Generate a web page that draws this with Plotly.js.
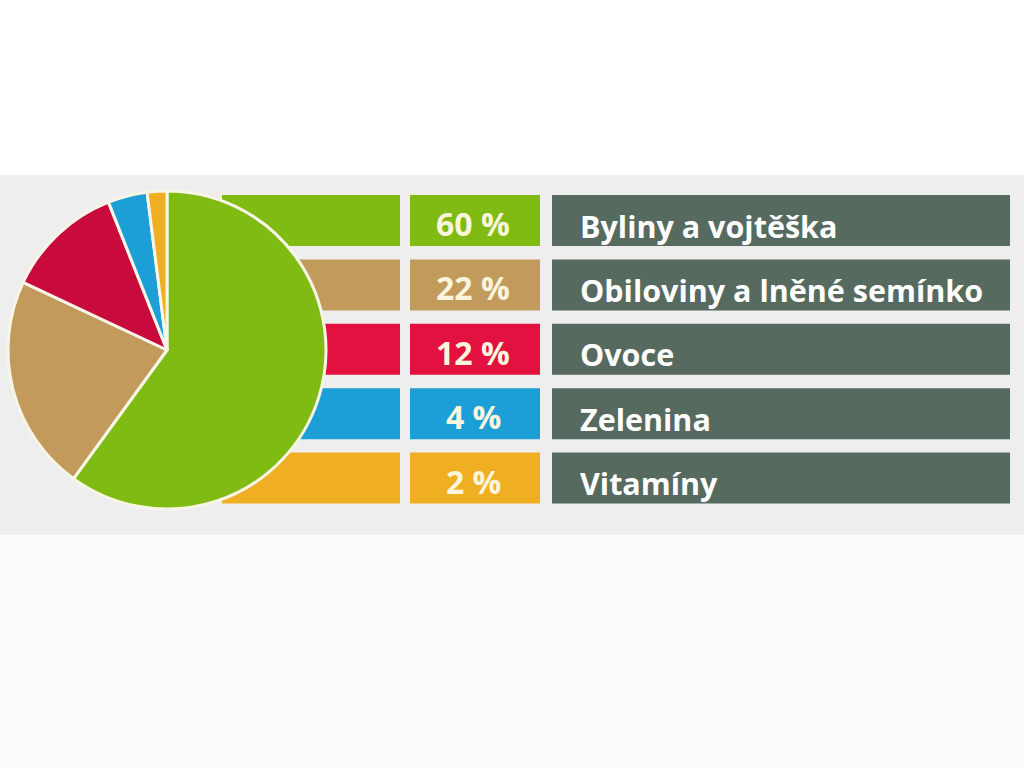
<!DOCTYPE html>
<html><head><meta charset="utf-8">
<script src="https://cdn.plot.ly/plotly-3.0.1.min.js"></script>
<style>html,body{margin:0;padding:0;background:#fff}</style>
</head><body>
<div id="chart" style="width:1024px;height:768px"></div>
<script>
// ---- data ----
const categories = ["Byliny a vojtěška", "Obiloviny a lněné semínko", "Ovoce", "Zelenina", "Vitamíny"];
const values = [60, 22, 12, 4, 2];
const pctLabels = ["60 %", "22 %", "12 %", "4 %", "2 %"];
const sliceColors = ["#7fbb12", "#c29a5c", "#c90a3c", "#1b9fd6", "#f0ae22"];
const stripColors = ["#7fbb12", "#c29a5c", "#e2113f", "#1b9fd6", "#f0ae22"];

// ---- geometry (pixel-mapped axes) ----
const W = 1024, H = 768;
const rowTop = 220.5, pitch = 64.4;
const yLo = (0 - rowTop) / pitch, yHi = (H - rowTop) / pitch;
const rows = categories.map((_, i) => i);
const barW = 51 / pitch;

const stripTrace = {
  type: 'bar', orientation: 'h', y: rows, x: categories.map(() => 400 - 222), base: categories.map(() => 222),
  width: barW, marker: {color: stripColors, line: {width: 0}}, hoverinfo: 'skip', showlegend: false
};
const pctTrace = {
  type: 'bar', orientation: 'h', y: rows, x: categories.map(() => 540 - 410), base: categories.map(() => 410),
  width: barW, marker: {color: stripColors, line: {width: 0}}, hoverinfo: 'skip', showlegend: false
};
const labelTrace = {
  type: 'bar', orientation: 'h', y: rows, x: categories.map(() => 1010 - 552), base: categories.map(() => 552),
  width: barW, marker: {color: '#566a60', line: {width: 0}}, hoverinfo: 'skip', showlegend: false
};

const cx = 167, cy = 350, r = 159;
const pieTrace = {
  type: 'pie', values: values, labels: categories, sort: false, direction: 'clockwise', rotation: 0,
  marker: {colors: sliceColors, line: {color: '#f7f6e6', width: 3}},
  textinfo: 'none', hoverinfo: 'label+percent', showlegend: false,
  domain: {x: [(cx - r) / W, (cx + r) / W], y: [(H - cy - r) / H, (H - cy + r) / H]}
};

const annotations = [];
categories.forEach((c, i) => {
  annotations.push({x: 473, y: i + 3 / pitch, xref: 'x', yref: 'y', text: '<b>' + pctLabels[i] + '</b>', showarrow: false,
    xanchor: 'center', yanchor: 'middle', font: {family: 'Open Sans', size: 32, color: '#faf5dc'}});
  annotations.push({x: 578, y: i + 5 / pitch, xref: 'x', yref: 'y', text: '<b>' + c + '</b>', showarrow: false,
    xanchor: 'left', yanchor: 'middle', font: {family: 'Open Sans', size: 30.5, color: '#ffffff'}});
});

const shapes = [
  {type: 'rect', xref: 'paper', yref: 'paper', x0: 0, x1: 1, y0: (H - 535) / H, y1: (H - 175) / H,
   fillcolor: '#eeeeee', line: {width: 0}, layer: 'below'},
  {type: 'rect', xref: 'paper', yref: 'paper', x0: 0, x1: 1, y0: 0, y1: (H - 535) / H,
   fillcolor: '#fbfbfb', line: {width: 0}, layer: 'below'}
];

const layout = {
  width: W, height: H, margin: {l: 0, r: 0, t: 0, b: 0},
  paper_bgcolor: '#ffffff', plot_bgcolor: 'rgba(0,0,0,0)',
  xaxis: {range: [0, W], visible: false, fixedrange: true},
  yaxis: {range: [yHi, yLo], visible: false, fixedrange: true},
  barmode: 'overlay', showlegend: false, annotations: annotations, shapes: shapes
};

Plotly.newPlot('chart', [stripTrace, pctTrace, labelTrace, pieTrace], layout, {displayModeBar: false, staticPlot: true});
</script>
</body></html>
